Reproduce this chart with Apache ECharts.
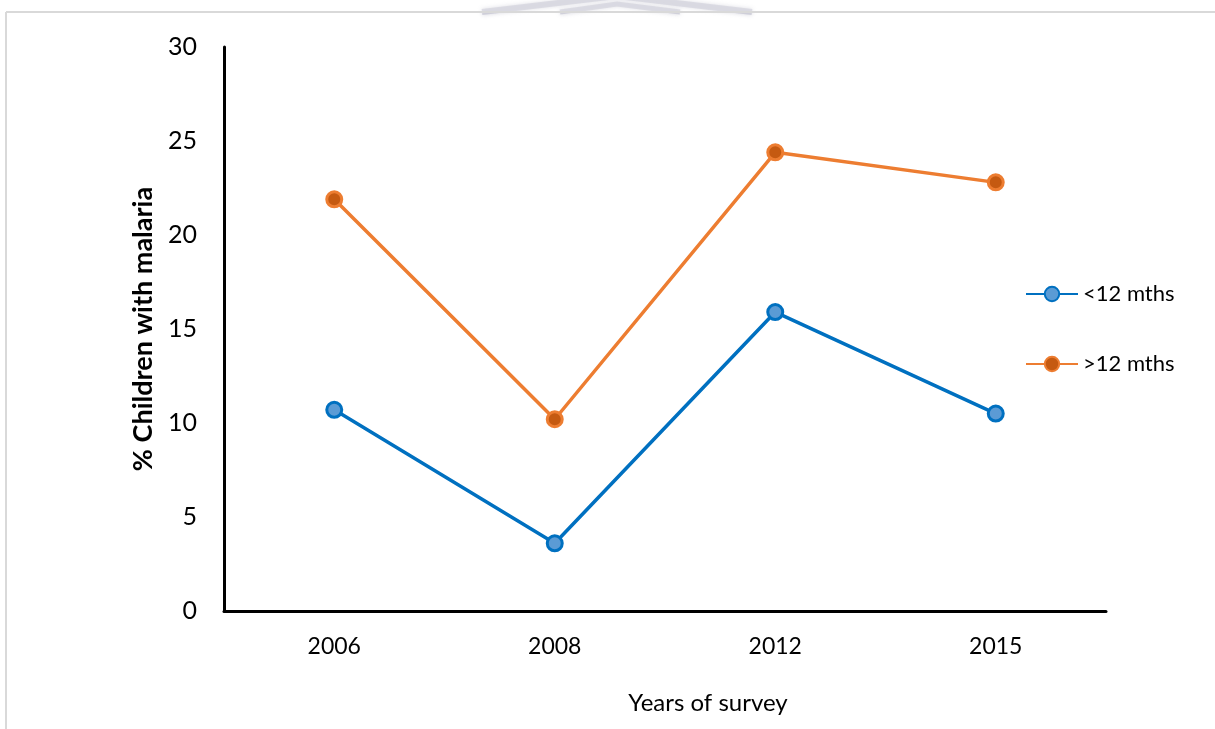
<!DOCTYPE html>
<html>
<head>
<meta charset="utf-8">
<script src="https://cdn.jsdelivr.net/npm/echarts@6/dist/echarts.min.js"></script>
<style>
  html, body { margin: 0; padding: 0; background: #fff; }
  #chart { width: 1215px; height: 729px; }
</style>
</head>
<body>
<div id="chart"></div>
<script>
// Survey years and malaria prevalence (%) by age group
const years = ['2006', '2008', '2012', '2015'];
const under12 = [10.7, 3.6, 15.9, 10.5];
const over12 = [21.9, 10.2, 24.4, 22.8];
const yTicks = { min: 0, max: 30, interval: 5 };

const FONT = 'Lato, "Open Sans", sans-serif';

const chart = echarts.init(document.getElementById('chart'), null, { renderer: 'canvas' });

function lineSeries(name, data, lineColor, fillColor) {
  return {
    name: name,
    type: 'line',
    data: data,
    symbol: 'circle',
    symbolSize: 15,
    lineStyle: { color: lineColor, width: 3.5 },
    itemStyle: { color: fillColor, borderColor: lineColor, borderWidth: 3 },
    emphasis: { disabled: true },
    animation: false
  };
}

chart.setOption({
  animation: false,
  backgroundColor: '#ffffff',
  grid: { left: 224, right: 109, top: 47, bottom: 118, containLabel: false },
  legend: {
    orient: 'vertical',
    left: 1025,
    top: 283,
    padding: 0,
    itemWidth: 52,
    itemHeight: 18,
    itemGap: 48,
    textStyle: { fontFamily: FONT, fontSize: 22, lineHeight: 22, color: '#000' },
    data: ['<12 mths', '>12 mths']
  },
  xAxis: {
    type: 'category',
    data: years,
    boundaryGap: true,
    axisLine: { lineStyle: { color: '#000', width: 3 } },
    axisTick: { show: false },
    axisLabel: { fontFamily: FONT, fontSize: 23, color: '#000', margin: 24 },
    name: 'Years of survey',
    nameLocation: 'middle',
    nameGap: 80,
    nameTextStyle: { fontFamily: FONT, fontSize: 24, color: '#000', padding: [0, 0, 0, 86] }
  },
  yAxis: {
    type: 'value',
    min: yTicks.min,
    max: yTicks.max,
    interval: yTicks.interval,
    splitLine: { show: false },
    axisLine: { show: true, lineStyle: { color: '#000', width: 3 } },
    axisTick: { show: false },
    axisLabel: { fontFamily: FONT, fontSize: 25, color: '#000', margin: 27 },
    name: '% Children with malaria',
    nameLocation: 'middle',
    nameGap: 64,
    nameTextStyle: { fontFamily: FONT, fontSize: 27, fontWeight: 'bold', color: '#000' }
  },
  series: [
    lineSeries('<12 mths', under12, '#0070C0', '#5B9BD5'),
    lineSeries('>12 mths', over12, '#ED7D31', '#C55A11')
  ],
  graphic: [
    // faint emblem peeking above the frame
    { type: 'polyline', shape: { points: [[482, 12], [617, -4], [752, 12]] }, style: { stroke: '#c4c4d2', lineWidth: 6, fill: null, opacity: 0.7, shadowBlur: 4, shadowColor: '#c4c4d2' }, silent: true },
    { type: 'polyline', shape: { points: [[560, 12], [617, 4], [680, 12]] }, style: { stroke: '#c4c4d2', lineWidth: 5, fill: null, opacity: 0.7, shadowBlur: 4, shadowColor: '#c4c4d2' }, silent: true },
    // page frame
    { type: 'rect', shape: { x: 0, y: 0, width: 1215, height: 11 }, style: { fill: 'rgba(255,255,255,0.25)' }, silent: true },
    { type: 'line', shape: { x1: 6, y1: 12, x2: 1215, y2: 12 }, style: { stroke: '#d9d9d9', lineWidth: 2 }, silent: true },
    { type: 'line', shape: { x1: 6, y1: 12, x2: 6, y2: 729 }, style: { stroke: '#d9d9d9', lineWidth: 2 }, silent: true }
  ]
});
</script>
</body>
</html>
